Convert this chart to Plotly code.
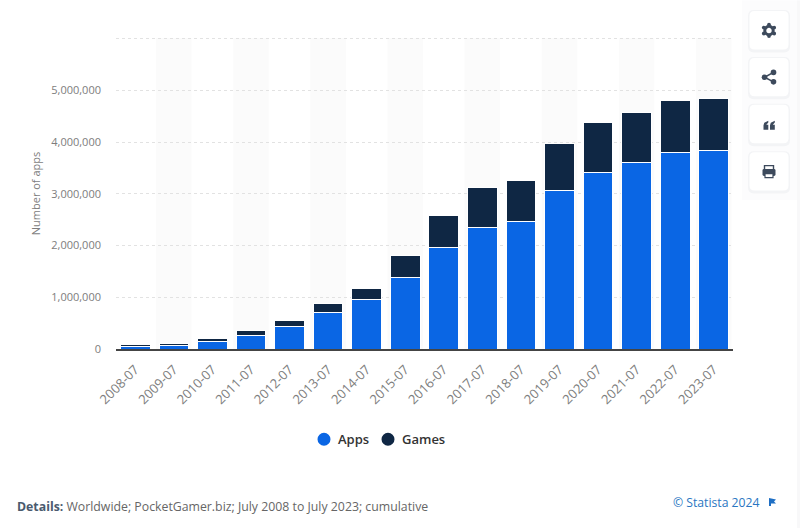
import plotly.graph_objects as go

# ── Data ──────────────────────────────────────
years = ["2008-07", "2009-07", "2010-07", "2011-07", "2012-07", "2013-07", "2014-07", "2015-07",
         "2016-07", "2017-07", "2018-07", "2019-07", "2020-07", "2021-07", "2022-07", "2023-07"]
apps = [45000, 65000, 145000, 265000, 440000, 700000, 955000, 1390000,
        1960000, 2340000, 2455000, 3070000, 3420000, 3600000, 3800000, 3830000]
games = [38000, 42000, 52000, 92000, 115000, 170000, 205000, 410000,
         620000, 780000, 795000, 900000, 960000, 980000, 1010000, 1020000]
y_ticks = [0, 1000000, 2000000, 3000000, 4000000, 5000000]
y_labels = ["0", "1,000,000", "2,000,000", "3,000,000", "4,000,000", "5,000,000"]
y_top = 6000000

BLUE = "#0a66e4"
NAVY = "#0f2744"
MUTED = "#7d7d7d"
GRID = "#e2e2e2"
ICON = "#3d4a5c"
FONT = "Open Sans"

# plot area in page pixels
L, R, T, B = 116, 733, 37.5, 349.5


def px(x):
    return (x - L) / (R - L)


def py(y):
    return (B - y) / (B - T)


def round_rect(x0, y0, x1, y1, r=5):
    a, b, c, d = px(x0), py(y0), px(x1), py(y1)
    rx, ry = r / (R - L), r / (B - T)
    return (f"M{a+rx},{b} L{c-rx},{b} Q{c},{b} {c},{b-ry} L{c},{d+ry} Q{c},{d} {c-rx},{d} "
            f"L{a+rx},{d} Q{a},{d} {a},{d+ry} L{a},{b-ry} Q{a},{b} {a+rx},{b} Z")


def poly(points):
    return "M" + " L".join(f"{px(x)},{py(y)}" for x, y in points) + " Z"


def circle(cx, cy, r, fill=ICON, line=None, lw=0):
    return dict(type="circle", xref="paper", yref="paper", x0=px(cx - r), x1=px(cx + r), y0=py(cy + r), y1=py(cy - r),
                fillcolor=fill, line=dict(color=line or fill, width=lw))


def path(d, fill=ICON, line=None, lw=0, layer="above"):
    return dict(type="path", xref="paper", yref="paper", path=d, fillcolor=fill,
                line=dict(color=line or fill, width=lw), layer=layer)


fig = go.Figure()

fig.add_trace(go.Bar(x=years, y=apps, name="Apps", showlegend=False,
                     marker=dict(color=BLUE, line=dict(color="white", width=1))))
fig.add_trace(go.Bar(x=years, y=games, name="Games", showlegend=False,
                     marker=dict(color=NAVY, line=dict(color="white", width=1))))

shapes = []

# ── Alternating column bands ──────────────────
for i in range(1, len(years), 2):
    shapes.append(dict(type="rect", xref="x", yref="paper", x0=i - 0.46, x1=i + 0.46, y0=0, y1=1,
                       fillcolor="#fbfbfb", line_width=0, layer="below"))

# top gridline has no tick label, so it is drawn on its own
shapes.append(dict(type="line", xref="paper", yref="y", x0=0, x1=1, y0=y_top, y1=y_top,
                   line=dict(color=GRID, width=1, dash="dot"), layer="below"))

# ── Right toolbar ─────────────────────────────
shapes.append(dict(type="rect", xref="paper", yref="paper", x0=px(742), x1=px(800), y0=py(200), y1=py(0),
                   fillcolor="#fcfcfd", line_width=0, layer="below"))
shapes.append(dict(type="rect", xref="paper", yref="paper", x0=px(797), x1=px(800), y0=py(529), y1=py(0),
                   fillcolor="#f8f8f9", line_width=0, layer="below"))
cards = [(10.5, 49), (57.5, 96), (104.5, 143), (152, 190.5)]
for y0, y1 in cards:
    shapes.append(path(round_rect(748, y0 - 1, 790, y1 + 3, 6), fill="#f3f4f6", layer="below"))
    shapes.append(path(round_rect(749.5, y0, 788.5, y1, 5), fill="white", layer="below"))

# gear
for tx, ty in [(769, 24), (769, 35.5), (763.8, 27), (774.2, 27), (763.8, 33), (774.2, 33)]:
    shapes.append(circle(tx, ty, 1.9))
shapes.append(circle(769, 30, 4.2, fill="white", line=ICON, lw=3))
# share
shapes.append(dict(type="path", xref="paper", yref="paper",
                   path=f"M{px(773.5)},{py(72)} L{px(764.5)},{py(76.8)} L{px(773.5)},{py(81.5)}",
                   line=dict(color=ICON, width=1.6)))
shapes.append(circle(773.5, 72, 2.8))
shapes.append(circle(764.5, 76.8, 2.8))
shapes.append(circle(773.5, 81.5, 2.8))
# quote marks
for qx in (763.5, 770):
    shapes.append(path(poly([(qx, 125), (qx + 0.8, 122.5), (qx + 4.8, 120.5), (qx + 4.8, 122.3), (qx + 2.8, 124.5),
                             (qx + 4.8, 124.5), (qx + 4.8, 129.5), (qx, 129.5)])))
# printer
shapes.append(path(poly([(764.5, 165.5), (773.5, 165.5), (773.5, 170), (764.5, 170)]), fill="white", line=ICON, lw=1.4))
shapes.append(path(round_rect(762.5, 169, 775.5, 176, 1.5)))
shapes.append(path(poly([(765, 173.5), (773, 173.5), (773, 177.5), (765, 177.5)]), fill="white", line=ICON, lw=1.2))
# Statista flag
shapes.append(path(poly([(769, 499), (776, 500.5), (774, 502.5), (776, 504.5), (771, 504.5), (771, 507), (769, 507)]),
                   fill="#1f6fc4"))
# legend dots
shapes.append(circle(324, 440, 6.5, fill=BLUE))
shapes.append(circle(388, 440, 6.5, fill=NAVY))

# ── Text outside the plot ─────────────────────
legend_font = dict(family=FONT, size=13, color="#333333", weight=600)
annotations = [
    dict(x=px(336), y=py(440), text="Apps", font=legend_font, xanchor="left"),
    dict(x=px(399.5), y=py(440), text="Games", font=legend_font, xanchor="left"),
    dict(x=px(15), y=py(507.5),
         text="<b style='color:#4a5a6e'>Details:</b> Worldwide; PocketGamer.biz; July 2008 to July 2023; cumulative",
         font=dict(family=FONT, size=12.3, color="#666666"), xanchor="left"),
    dict(x=px(762), y=py(503), text="© Statista 2024",
         font=dict(family=FONT, size=12.2, color="#2a76c2"), xanchor="right"),
]
for a in annotations:
    a.update(xref="paper", yref="paper", showarrow=False, yanchor="middle")

# ── Layout ────────────────────────────────────
fig.update_layout(
    width=800, height=529,
    barmode="stack", bargap=0.23,
    showlegend=False,
    paper_bgcolor="white", plot_bgcolor="rgba(0,0,0,0)",
    margin=dict(l=L, r=800 - R, t=T, b=529 - B, autoexpand=False),
    font=dict(family=FONT, color=MUTED),
    shapes=shapes, annotations=annotations,
)
fig.update_xaxes(type="category", tickangle=-45, tickfont=dict(size=13, color=MUTED), ticklabelstandoff=6,
                 showline=True, linecolor="#444444", linewidth=1.5, showgrid=False, ticks="",
                 range=[-0.5, 15.5])
fig.update_yaxes(range=[0, 6010000], tickvals=y_ticks, ticktext=y_labels, ticks="",
                 tickfont=dict(size=11, color=MUTED), ticklabelstandoff=14,
                 showgrid=True, gridcolor=GRID, griddash="dot", gridwidth=1, zeroline=False,
                 title=dict(text="Number of apps", font=dict(size=11, color=MUTED), standoff=8))

fig.write_html("out.html", config={"displayModeBar": False}, post_script="document.body.style.margin='0';")
